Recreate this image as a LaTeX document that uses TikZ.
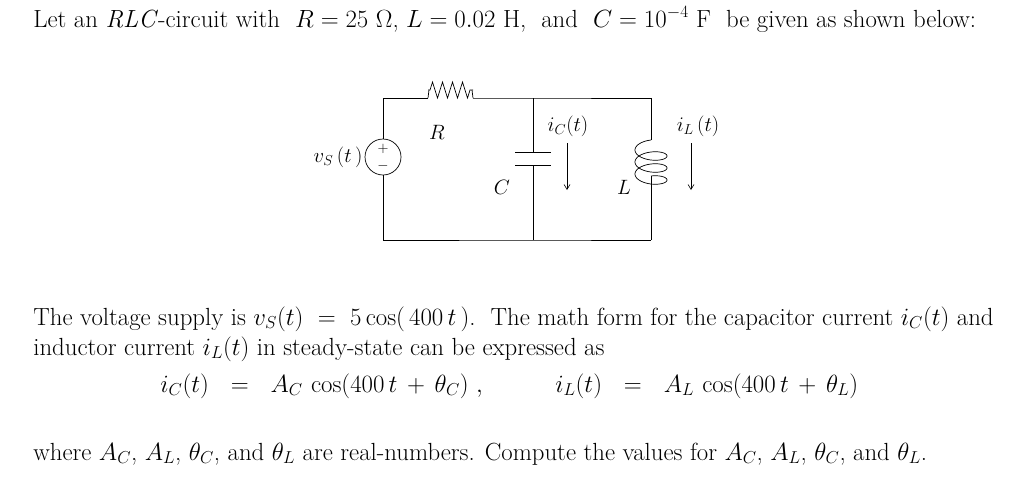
\documentclass[tikz,border=0pt]{standalone}
\usetikzlibrary{decorations.pathmorphing,arrows.meta}
\begin{document}
\begin{tikzpicture}[x=1pt,y=-1pt,line width=0.7pt,
  txt/.style={anchor=base west,inner sep=0,font=\fontsize{24.8}{30}\selectfont},
  lbl/.style={inner sep=0,font=\fontsize{22}{26}\selectfont},
  cur/.style={-{Straight Barb[length=5pt,width=6pt]},line width=0.6pt}]
\useasboundingbox (0,0) rectangle (1024,498);
\node[txt] (t1) at (33,27) {Let an \textit{RLC}-circuit with\ \ $R=25\ \Omega$, $L=0.02$ H,\ \ and\ \ $C=10^{-4}$ F\ \ be given as shown below:};
\coordinate (tl) at (383,98); \coordinate (bl) at (383,240);
\coordinate (tm) at (533,98); \coordinate (bm) at (533,240);
\coordinate (tr) at (651,98); \coordinate (br) at (651,240);
\node[draw,circle,minimum size=36pt,inner sep=0] (src) at (383,157) {};
\node[inner sep=0,font=\fontsize{15}{15}\selectfont] (pl) at (383,149) {$+$};
\node[inner sep=0,font=\fontsize{15}{15}\selectfont] (mi) at (383,166) {$-$};
\draw (src.north) -- (tl) -- (428,98);
\draw[decorate,decoration={zigzag,segment length=10pt,amplitude=8pt,pre length=2pt,post length=2pt}] (428,90) -- (473,90);
\draw (428,98)--(429,90) (472,90)--(473,98);
\draw (473,98) -- (tm) -- (tr);
\draw (src.south) -- (bl) -- (bm) -- (br);
\draw (tm) -- (533,152); \draw (515,152) -- (551,152); \draw (515,165) -- (551,165); \draw (533,165) -- (bm);
\draw (tr) -- (651,140);
\draw[domain=0:1080,samples=160,smooth,variable=\t] plot ({651-16*sin(\t)},{147+\t/1080*36-7*cos(\t)});
\draw (651,176) -- (br);
\node[lbl] (R) at (437,132) {$R$};
\node[lbl] (C) at (502,187) {$C$};
\node[lbl] (L) at (624,187) {$L$};
\node[lbl] (vs) at (338,157) {$v_S\,(t\,)$};
\node[lbl] (ic) at (568,126) {$i_C(t)$};
\node[lbl] (il) at (698,126) {$i_L\,(t)$};
\coordinate (ica) at (567,143); \coordinate (icb) at (567,190);
\coordinate (ila) at (691,143); \coordinate (ilb) at (691,190);
\draw[cur] (ica) -- (icb); \draw[cur] (ila) -- (ilb);
\node[txt] (p1) at (33,325) {The voltage supply is $v_S(t)\ =\ 5\cos(\,400\,t\,)$.\ \ The math form for the capacitor current $i_C(t)$ and};
\node[txt] (p2) at (33,355) {inductor current $i_L(t)$ in steady-state can be expressed as};
\node[txt] (e1) at (160,392) {$i_C(t)\ \ =\ \ A_C\,\cos\biggl(400\,t\,+\,\theta_C\biggr)\ ,$};
\node[txt] (e2) at (555,392) {$i_L(t)\ \ =\ \ A_L\,\cos\biggl(400\,t\,+\,\theta_L\biggr)$};
\node[txt] (p3) at (33,460) {where $A_C$, $A_L$, $\theta_C$, and $\theta_L$ are real-numbers. Compute the values for $A_C$, $A_L$, $\theta_C$, and $\theta_L$.};
\end{tikzpicture}
\end{document}
